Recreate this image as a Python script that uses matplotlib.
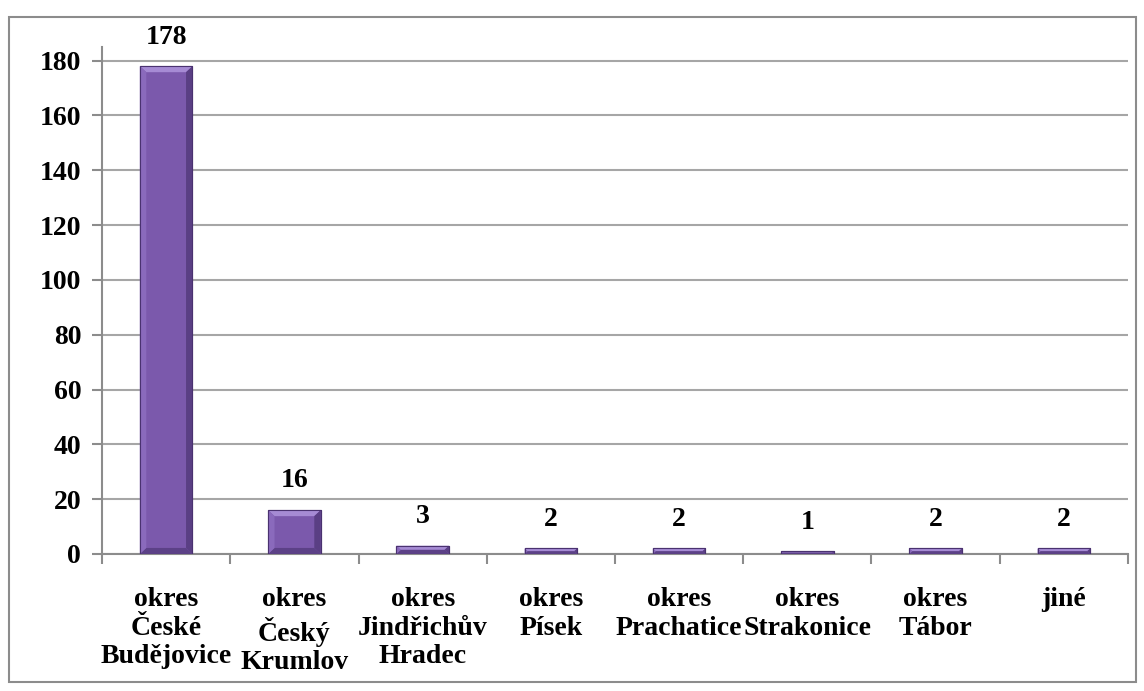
import matplotlib.pyplot as plt
from matplotlib.patches import Rectangle, Polygon

plt.rcParams['font.family'] = ['Liberation Serif', 'DejaVu Serif']
plt.rcParams['font.weight'] = 'bold'

# okresy a počty
kategorie = ["okres\nČeské\nBudějovice", "okres\nČeský\nKrumlov", "okres\nJindřichův\nHradec",
             "okres\nPísek", "okres\nPrachatice", "okres\nStrakonice", "okres\nTábor", "jiné"]
pocty = [178, 16, 3, 2, 2, 1, 2, 2]
yticks = [0, 20, 40, 60, 80, 100, 120, 140, 160, 180]

fig = plt.figure(figsize=(11.44, 6.91), dpi=100)
ax = fig.add_axes([0.0892, 0.1983, 0.8968, 0.7337])

# ramecek kolem grafu
fig.patches.append(Rectangle((9/1144, 1 - 682/691), 1127/1144, 665/691,
                             transform=fig.transFigure, fill=False,
                             edgecolor='#8c8c8c', linewidth=1.5))

x = list(range(len(kategorie)))
sirka = 0.41
bars = ax.bar(x, pocty, width=sirka, color='#7B59AC', edgecolor='#4A3270', linewidth=0.8, zorder=3)

# zkosene hrany sloupcu (svetla horni, tmava spodni a prava)
bx, by = 0.05, 2.2
for b, v in zip(bars, pocty):
    x0, x1 = b.get_x(), b.get_x() + b.get_width()
    dy = min(by, v / 2)
    dx = min(bx, dy * bx / by)
    faces = [
        ([(x0, v), (x1, v), (x1 - dx, v - dy), (x0 + dx, v - dy)], '#A68BD4'),
        ([(x0, 0), (x1, 0), (x1 - dx, dy), (x0 + dx, dy)], '#5C4187'),
        ([(x0, 0), (x0, v), (x0 + dx, v - dy), (x0 + dx, dy)], '#8A6ABC'),
        ([(x1, 0), (x1, v), (x1 - dx, v - dy), (x1 - dx, dy)], '#5A3F84'),
    ]
    for pts, c in faces:
        ax.add_patch(Polygon(pts, closed=True, facecolor=c, edgecolor='none', zorder=4))
    ax.add_patch(Rectangle((x0, 0), x1 - x0, v, fill=False, edgecolor='#4A3270',
                           linewidth=0.8, zorder=5))

for xi, v in zip(x, pocty):
    ax.annotate(str(v), (xi, v), xytext=(0, 12), textcoords='offset points',
                ha='center', va='bottom', fontsize=20, fontweight='bold')

ax.set_xlim(-0.5, len(kategorie) - 0.5)
ax.set_ylim(0, 185)
ax.set_yticks(yticks)
ax.set_yticklabels([str(t) for t in yticks], fontsize=20, fontweight='bold')
ax.yaxis.grid(True, color='#a6a6a6', linewidth=1.5, zorder=0)
ax.set_axisbelow(True)

ax.set_xticks([i - 0.5 for i in range(len(kategorie) + 1)], minor=False)
ax.set_xticklabels([])
ax.set_xticks(x, minor=True)
ax.set_xticklabels(kategorie, minor=True, fontsize=20, fontweight='bold',
                   linespacing=1.18, multialignment='center')
ax.tick_params(axis='x', which='major', direction='out', length=7, width=1.5, color='#8c8c8c')
ax.tick_params(axis='x', which='minor', length=0, pad=24)
ax.tick_params(axis='y', direction='out', length=7, width=1.5, color='#8c8c8c', pad=8)

for s in ['top', 'right']:
    ax.spines[s].set_visible(False)
ax.spines['left'].set_color('#8c8c8c')
ax.spines['left'].set_linewidth(1.5)
ax.spines['bottom'].set_color('#8c8c8c')
ax.spines['bottom'].set_linewidth(1.5)

fig.savefig('out.png', dpi=100)
